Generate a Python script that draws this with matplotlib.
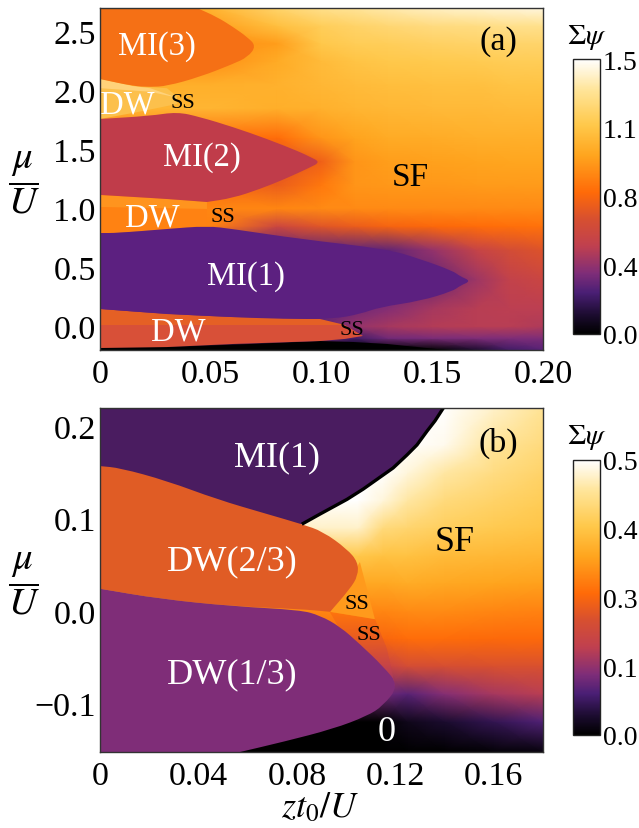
#相图复现 (a) (b) 两个面板
import numpy as np
import matplotlib
matplotlib.use('Agg')
import matplotlib.pyplot as plt
from matplotlib.colors import LinearSegmentedColormap, Normalize
from matplotlib.cm import ScalarMappable
from matplotlib.patches import Polygon, PathPatch
from matplotlib.path import Path

plt.rcParams['font.family'] = ['Liberation Serif', 'DejaVu Serif']
plt.rcParams['mathtext.fontset'] = 'stix'

#-------------colorbar colours (position, colour)
cmap_pos = [0, 0.07, 0.15, 0.22, 0.32, 0.42, 0.515, 0.65, 0.76, 0.89, 1]
cmap_col = ['#000000', '#1c0c30', '#4a1f75', '#7f2d78', '#c0404f', '#d8502f', '#ff6a08',
            '#ffa51e', '#ffc84a', '#ffe59a', '#ffffff']

#-------------panel (a) background
a_t = [0, .05, .08, .10, .115, .13, .15, .17, .185, .20]
a_mu = [-.2, -.1, 0, .15, .4, .65, .85, 1.0, 1.2, 1.4, 1.6, 1.85, 2.05, 2.25, 2.4, 2.55, 2.7]
a_sf = [
    [0, 0, 0, 0, 0, 0, 0, .10, .20, .25],
    [.30, .30, .30, .30, .20, .30, .32, .33, .33, .33],
    [.30, .30, .30, .28, .38, .42, .45, .46, .46, .44],
    [.27, .27, .27, .27, .30, .34, .42, .46, .47, .47],
    [.27, .27, .27, .27, .27, .27, .27, .40, .50, .54],
    [.27, .27, .27, .27, .27, .27, .38, .52, .60, .65],
    [.85, .85, .55, .66, .70, .74, .76, .78, .79, .80],
    [.87, .87, .87, .88, .88, .88, .88, .88, .88, .88],
    [.80, .80, .70, .82, .92, .93, .93, .94, .94, .94],
    [.60, .60, .65, .72, .92, .95, .96, .97, .98, .98],
    [.80, .80, .78, .92, .97, 1.0, 1.01, 1.02, 1.02, 1.02],
    [1.05, 1.05, 1.02, 1.03, 1.05, 1.06, 1.07, 1.07, 1.08, 1.08],
    [1.02, 1.02, 1.03, 1.06, 1.08, 1.09, 1.10, 1.10, 1.12, 1.12],
    [.90, .90, 1.0, 1.08, 1.12, 1.14, 1.15, 1.16, 1.17, 1.17],
    [.90, .90, .95, 1.14, 1.17, 1.18, 1.20, 1.21, 1.22, 1.22],
    [.90, .95, 1.10, 1.18, 1.21, 1.24, 1.27, 1.28, 1.30, 1.30],
    [.90, 1.05, 1.22, 1.30, 1.33, 1.36, 1.40, 1.42, 1.43, 1.45],
]

#-------------panel (a) phase boundaries, repeated points stay sharp
mi3_t = [0, 0, .0149, .0226, .0302, .0451, .06, .0668, .0705, .0664, .06, .0528, .0438, .0438, 0, 0]
mi3_mu = [2.098, 2.098, 2.038, 2.03, 2.038, 2.116, 2.225, 2.285, 2.378, 2.455, 2.54, 2.624, 2.70, 2.70, 2.70, 2.70]
mi2_t = [0, 0, .0226, .0348, .0451, .06, .0754, .0903, .0945, .0995, .0945, .0835, .0722, .06, .0483, .0483, .0302, .0149, 0, 0]
mi2_mu = [1.759, 1.759, 1.785, 1.819, 1.776, 1.691, 1.59, 1.479, 1.44, 1.394, 1.345, 1.25, 1.165, 1.089, 1.055, 1.055, 1.081, 1.098, 1.115, 1.115]
mi1_t = [0, 0, .0077, .0302, .0483, .06, .0903, .1296, .1445, .1594, .1625, .1675, .1625, .1594, .1445, .1264, .1174, .1052, .0826, .06, .0302, 0, 0]
mi1_mu = [.792, .792, .792, .826, .852, .826, .741, .656, .572, .47, .425, .385, .345, .30, .215, .164, .105, .063, .063, .079, .105, .148, .148]

dw_hi_t = [0, .0149, .0302, .0348, .0348, .0149, 0]
dw_hi_mu = [2.098, 2.038, 2.02, 1.95, 1.886, 1.81, 1.759]
dw_hi_band_t = [0, .0149, .0226, .0348, .0226, 0]
dw_hi_band_mu = [2.098, 2.038, 2.02, 1.94, 1.99, 2.02]
dw_mid_t = [0, .0149, .0302, .0483, .0483, .0302, .0077, 0]
dw_mid_mu = [1.115, 1.098, 1.081, 1.055, .852, .826, .792, .792]
dw_mid_band_t = [0, .0149, .0302, .0483, .0483, 0]
dw_mid_band_mu = [1.115, 1.098, 1.081, 1.055, .996, 1.013]
dw_lo_t = [0, .0302, .06, .0993, .1106, .1187, .1106, 0]
dw_lo_mu = [-.183, -.175, -.149, -.124, -.106, -.081, .012, .012]
dw_lo_band_t = [0, .0302, .06, .0826, .0993, .1106, 0]
dw_lo_band_mu = [.148, .105, .079, .071, .063, .012, .012]
black_t = [0, .0316, .0677, .0993, .1142, .1296, .1521, .1594, 0]
black_mu = [-.183, -.175, -.149, -.124, -.132, -.149, -.192, -.2, -.2]

#-------------panel (b) background
b_t = [0, .06, .09, .105, .115, .125, .14, .16, .18]
b_mu = [-.153, -.12, -.09, -.06, -.03, 0, .03, .06, .09, .12, .15, .18, .22]
b_sf = [
    [0, 0, 0, 0, 0, 0, 0, .005, .01],
    [0, 0, 0, 0, 0, .02, .035, .055, .08],
    [.11, .11, .11, .11, .10, .085, .115, .14, .155],
    [.17, .17, .17, .17, .17, .20, .205, .21, .21],
    [.25, .25, .25, .25, .25, .26, .26, .255, .255],
    [.29, .29, .29, .29, .29, .295, .295, .29, .285],
    [.33, .33, .33, .33, .33, .335, .33, .325, .32],
    [.38, .38, .38, .38, .37, .37, .36, .355, .35],
    [.47, .47, .47, .47, .42, .41, .395, .385, .375],
    [.50, .50, .50, .50, .48, .45, .42, .405, .39],
    [.50, .50, .50, .50, .50, .48, .45, .425, .405],
    [.50, .50, .50, .50, .50, .50, .49, .445, .42],
    [.50, .50, .50, .50, .50, .50, .50, .47, .44],
]

#-------------panel (b) phase boundaries
b_mi_edge_t = [.082, .0894, .1004, .1069, .1138, .1191, .1247, .1288, .1329, .1361, .1395]
b_mi_edge_mu = [.094, .105, .121, .132, .145, .155, .169, .180, .195, .206, .22]
b_mi_corner_t = [.1395, 0, 0]
b_mi_corner_mu = [.22, .22, .10]
b_dw23_t = [0, 0, .0081, .0272, .0475, .0679, .0821, .0906, .1004, .1048, .1048, .1016, .0935, .0935, .0813, .054, .0244, 0, 0]
b_dw23_mu = [.157, .157, .155, .141, .121, .105, .094, .086, .067, .053, .038, .024, -.001, -.001, .002, .005, .013, .024, .024]
b_dw13_t = [0, 0, .0244, .054, .0813, .0894, .0975, .1056, .115, .1215, .115, .1085, .0947, .0744, .0569, .0569, 0, 0]
b_dw13_mu = [.024, .024, .013, .005, .001, -.005, -.017, -.036, -.06, -.081, -.103, -.114, -.128, -.142, -.153, -.153, -.153, -.153]
b_ss_t = [.1056, .1117, .0935]
b_ss_mu = [.053, -.009, -.001]
b_ss2_t = [.0935, .1117, .1166, .1199, .11]
b_ss2_mu = [-.001, -.009, -.041, -.081, -.08]
b_ss2_rows = [-.09, -.06, -.03, 0]
b_ss2_vals = [.12, .17, .23, .27]

#-------------tick labels
a_xticks = [0, .05, .10, .15, .20]
a_xlabels = ['0', '0.05', '0.10', '0.15', '0.20']
a_yticks = [0, .5, 1, 1.5, 2, 2.5]
a_ylabels = ['0.0', '0.5', '1.0', '1.5', '2.0', '2.5']
b_xticks = [0, .04, .08, .12, .16]
b_xlabels = ['0', '0.04', '0.08', '0.12', '0.16']
b_yticks = [-.1, 0, .1, .2]
b_ylabels = ['\u22120.1', '0.0', '0.1', '0.2']
a_cbar_labels = ['0.0', '0.4', '0.8', '1.1', '1.5']
b_cbar_labels = ['0.0', '0.1', '0.3', '0.4', '0.5']

W, H = 639, 829
sunset = LinearSegmentedColormap.from_list('sunset', list(zip(cmap_pos, cmap_col)), N=512)
EDGE = '#333333'


def px_axes(fig, x0, y0, x1, y1):
    # 像素坐标 -> figure 坐标
    return fig.add_axes([x0 / W, 1 - y1 / H, (x1 - x0) / W, (y1 - y0) / H])


def region(ax, t, mu, color):
    ax.fill(t, mu, color=color, lw=0, zorder=2)


def lobe(ax, t, mu, color):
    # 用二次贝塞尔走边界，顶点当控制点
    pts = np.column_stack([t, mu])
    mids = (pts + np.roll(pts, -1, axis=0)) / 2
    verts = [mids[0]]
    codes = [Path.MOVETO]
    for i in range(1, len(pts) + 1):
        verts += [pts[i % len(pts)], mids[i % len(pts)]]
        codes += [Path.CURVE3, Path.CURVE3]
    ax.add_patch(PathPatch(Path(verts, codes), facecolor=color, lw=0, zorder=2))


def style(ax, xt, xl, yt, yl):
    ax.set_xticks(xt, xl)
    ax.set_yticks(yt, yl)
    ax.tick_params(length=0, labelsize=24.5, pad=3)
    ax.tick_params(axis='x', pad=6)
    for s in ax.spines.values():
        s.set_color(EDGE)
        s.set_linewidth(1)
        s.set_zorder(6)


def cbar(fig, y0, y1, vmax, labels):
    cax = px_axes(fig, 573, y0, 600, y1)
    cb = fig.colorbar(ScalarMappable(Normalize(0, vmax), sunset), cax=cax)
    cb.set_ticks(np.linspace(0, vmax, 5), labels=labels)
    cax.tick_params(length=0, labelsize=20, pad=2)
    cb.outline.set_edgecolor('#222222')
    cb.outline.set_linewidth(1)
    fig.text(587 / W, 1 - (y0 - 23) / H, r'$\Sigma\psi$', fontsize=21, ha='center', va='center')


def label(ax, x, y, s, color='white', size=23.5):
    ax.text(x, y, s, color=color, fontsize=size, ha='center', va='center', zorder=5)


fig = plt.figure(figsize=(W / 100, H / 100), dpi=100)

#-------------------------------(a)
ax = px_axes(fig, 100, 9, 543, 351)
T, M = np.meshgrid(a_t, a_mu)
ax.pcolormesh(T, M, np.array(a_sf), shading='gouraud', cmap=sunset, norm=Normalize(0, 1.5), zorder=1)
region(ax, black_t, black_mu, '#000000')
region(ax, dw_hi_t, dw_hi_mu, '#fcc04c')
region(ax, dw_hi_band_t, dw_hi_band_mu, '#ffd27a')
region(ax, dw_mid_t, dw_mid_mu, '#ff8212')
region(ax, dw_mid_band_t, dw_mid_band_mu, '#ff941e')
region(ax, dw_lo_t, dw_lo_mu, '#d85038')
region(ax, dw_lo_band_t, dw_lo_band_mu, '#e56025')
lobe(ax, mi3_t, mi3_mu, '#f57015')
lobe(ax, mi2_t, mi2_mu, '#c03c4a')
lobe(ax, mi1_t, mi1_mu, '#5c2080')
ax.set_xlim(0, .2)
ax.set_ylim(-.2, 2.7)
style(ax, a_xticks, a_xlabels, a_yticks, a_ylabels)
label(ax, .0257, 2.378, 'MI(3)')
label(ax, .0122, 1.886, 'DW')
label(ax, .0375, 1.90, 'SS', 'black', 16)
label(ax, .046, 1.436, 'MI(2)')
label(ax, .0235, .928, 'DW')
label(ax, .0555, .928, 'SS', 'black', 16)
label(ax, .0659, .427, 'MI(1)')
label(ax, .0352, -.04, 'DW')
label(ax, .1138, -.03, 'SS', 'black', 16)
label(ax, .14, 1.267, 'SF', 'black', 24)
label(ax, .18, 2.42, '(a)', 'black', 24.5)
cbar(fig, 60, 335, 1.5, a_cbar_labels)
fig.text(24 / W, 1 - 183 / H, r'$\dfrac{\mu}{U}$', fontsize=28, ha='center', va='center')

#-------------------------------(b)
ax = px_axes(fig, 100, 409, 543, 753)
T, M = np.meshgrid(b_t, b_mu)
ax.pcolormesh(T, M, np.array(b_sf), shading='gouraud', cmap=sunset, norm=Normalize(0, .5), zorder=1)
region(ax, b_mi_edge_t + b_mi_corner_t, b_mi_edge_mu + b_mi_corner_mu, '#4a1c60')
ax.plot(b_mi_edge_t, b_mi_edge_mu, color='black', lw=2.4, zorder=3, solid_capstyle='butt')
ss2_x, ss2_y = np.meshgrid([.09, .125], b_ss2_rows)
ss2 = ax.pcolormesh(ss2_x, ss2_y, np.array([b_ss2_vals, b_ss2_vals]).T, shading='gouraud', cmap=sunset,
                    norm=Normalize(0, .5), zorder=2)
ss2.set_clip_path(Polygon(np.column_stack([b_ss2_t, b_ss2_mu]), transform=ax.transData))
region(ax, b_ss_t, b_ss_mu, '#ff9a1c')
lobe(ax, b_dw23_t, b_dw23_mu, '#e05c25')
lobe(ax, b_dw13_t, b_dw13_mu, '#7f2d78')
ax.set_xlim(0, .18)
ax.set_ylim(-.153, .22)
style(ax, b_xticks, b_xlabels, b_yticks, b_ylabels)
label(ax, .0719, .167, 'MI(1)', 'white', 26)
label(ax, .0536, .054, 'DW(2/3)', 'white', 26)
label(ax, .0536, -.068, 'DW(1/3)', 'white', 26)
label(ax, .1044, .0076, 'SS', 'black', 16)
label(ax, .1093, -.026, 'SS', 'black', 16)
label(ax, .1442, .0748, 'SF', 'black', 26)
label(ax, .1617, .183, '(b)', 'black', 24.5)
label(ax, .1166, -.131, '0', 'white', 26)
cbar(fig, 461, 736, .5, b_cbar_labels)
fig.text(24 / W, 1 - 584 / H, r'$\dfrac{\mu}{U}$', fontsize=28, ha='center', va='center')
fig.text(320 / W, 1 - 809 / H, r'$zt_{\mathit{0}}/U$', fontsize=26, ha='center', va='center')

plt.savefig('out.png', dpi=100)
plt.close('all')
